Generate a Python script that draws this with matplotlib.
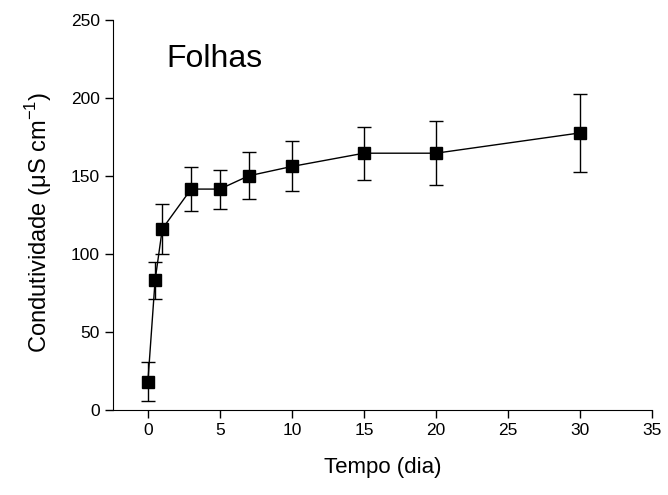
import matplotlib
matplotlib.use("Agg")
import matplotlib.pyplot as plt

plt.rcParams['font.family'] = ['Liberation Sans', 'DejaVu Sans']
plt.rcParams['mathtext.fontset'] = 'custom'
plt.rcParams['mathtext.rm'] = 'Liberation Sans'

tempo = [0, 0.5, 1, 3, 5, 7, 10, 15, 20, 30]
condutividade = [18, 83, 116, 141.5, 141.5, 150, 156, 164.5, 164.5, 177.5]
erro = [12.5, 12, 16, 14, 12.5, 15, 16, 17, 20.5, 25]

fig = plt.figure(figsize=(6.68, 4.95), dpi=100)
ax = fig.add_axes([0.169, 0.172, 0.807, 0.788])

ax.errorbar(tempo, condutividade, yerr=erro, color='black', marker='s',
            markersize=8, linewidth=1.0, elinewidth=1.0, capsize=5, capthick=1.0)

ax.set_xlim(-2.43, 35)
ax.set_ylim(0, 250)
ax.set_xticks([0, 5, 10, 15, 20, 25, 30, 35])
ax.set_yticks([0, 50, 100, 150, 200, 250])
ax.spines['top'].set_visible(False)
ax.spines['right'].set_visible(False)
ax.tick_params(direction='out', length=6, width=1, labelsize=12.5)
ax.set_xlabel('Tempo (dia)', fontsize=16, labelpad=14)
ax.set_ylabel('Condutividade (μS cm$^{-1}$)', fontsize=17, labelpad=12)
ax.yaxis.label.set_y(0.48)
ax.text(1.3, 225, 'Folhas', fontsize=23, va='center', ha='left')

fig.savefig('out.png', dpi=100)
